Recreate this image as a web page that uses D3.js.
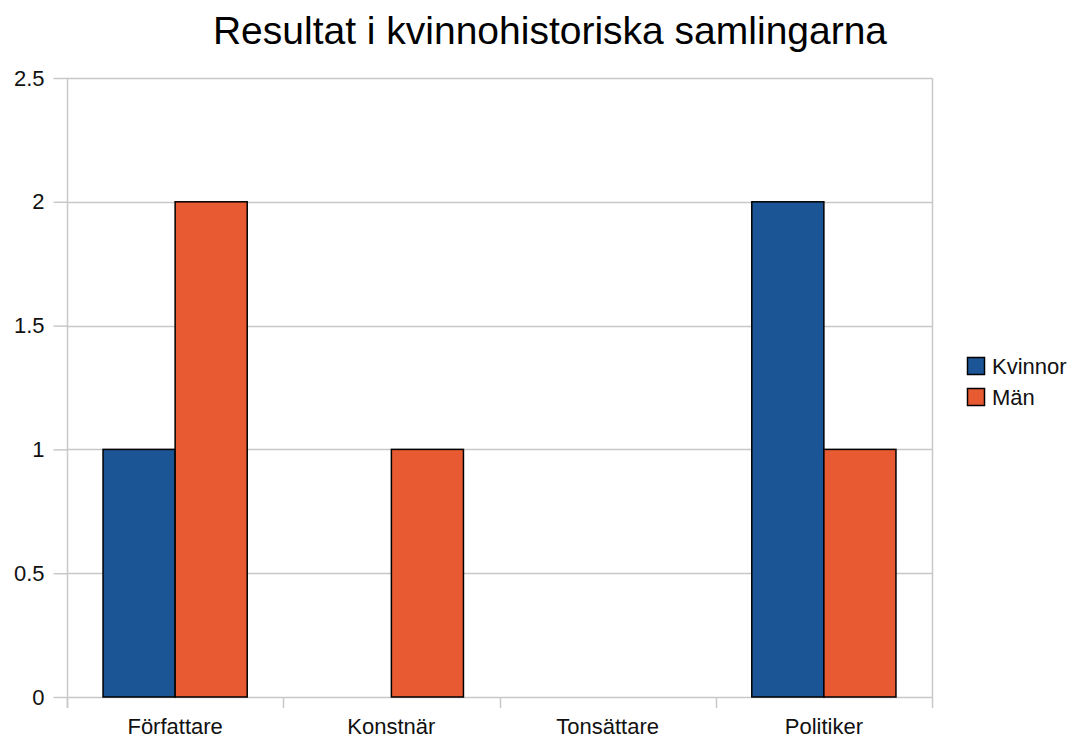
<!DOCTYPE html>
<html><head><meta charset="utf-8">
<script src="https://cdn.jsdelivr.net/npm/d3@7"></script>
<style>body{margin:0;background:#fff;}svg{display:block;font-family:"Liberation Sans",Arial,sans-serif;}</style>
</head><body>
<svg id="c" width="1077" height="740"></svg>
<script>
const categories = ["Författare", "Konstnär", "Tonsättare", "Politiker"];
const seriesNames = ["Kvinnor", "Män"];
const kvinnor = [1, 0, 0, 2];
const man = [2, 1, 0, 1];
const yTicks = [0, 0.5, 1, 1.5, 2, 2.5];
const yTickLabels = ["0", "0.5", "1", "1.5", "2", "2.5"];
const colors = ["#1b5596", "#e85a31"];
const title = "Resultat i kvinnohistoriska samlingarna";

const svg = d3.select("#c");
const m = {left: 67, right: 932, top: 78, bottom: 697};
const x = d3.scaleBand().domain(categories).range([m.left, m.right]).paddingInner(0).paddingOuter(0);
const y = d3.scaleLinear().domain([0, 2.5]).range([m.bottom, m.top]);
const x1 = d3.scaleBand().domain(seriesNames).range([x.bandwidth()/6, x.bandwidth()*5/6]);
const data = [kvinnor, man];
const FS = 22;

// gridlines
svg.append("g").selectAll("line").data(yTicks).join("line")
  .attr("x1", m.left).attr("x2", m.right)
  .attr("y1", d => Math.round(y(d)) + 0.5).attr("y2", d => Math.round(y(d)) + 0.5)
  .attr("stroke", "#c8c8c8").attr("stroke-width", 1.5);
// right border
svg.append("line").attr("x1", m.right + 0.5).attr("x2", m.right + 0.5)
  .attr("y1", m.top).attr("y2", m.bottom).attr("stroke", "#c8c8c8").attr("stroke-width", 1.5);

// y axis
const yAxis = d3.axisLeft(y).tickValues(yTicks).tickFormat((d, i) => yTickLabels[i]).tickSize(14).tickPadding(9);
const ya = svg.append("g").attr("transform", `translate(${m.left + 0.5},0)`).call(yAxis);
ya.select(".domain").remove();
ya.selectAll(".tick line").attr("stroke", "#c8c8c8").attr("stroke-width", 1.5);
ya.selectAll("text").attr("font-size", FS).attr("fill", "#111").attr("font-family", "Liberation Sans, Arial, sans-serif");
svg.append("line").attr("x1", m.left + 0.5).attr("x2", m.left + 0.5).attr("y1", m.top).attr("y2", m.bottom + 11)
  .attr("stroke", "#c8c8c8").attr("stroke-width", 1.5);

// x axis
const xa = svg.append("g").attr("transform", `translate(0,${m.bottom + 0.5})`)
  .call(d3.axisBottom(x).tickSize(0).tickPadding(21));
xa.select(".domain").remove();
xa.selectAll("text").attr("font-size", FS).attr("fill", "#111").attr("font-family", "Liberation Sans, Arial, sans-serif");
const bounds = categories.map(c => x(c)).concat([m.right]);
svg.append("g").selectAll("line").data(bounds).join("line")
  .attr("x1", d => Math.round(d) + 0.5).attr("x2", d => Math.round(d) + 0.5)
  .attr("y1", m.bottom).attr("y2", m.bottom + 11)
  .attr("stroke", "#c8c8c8").attr("stroke-width", 1.5);

// bars
const bars = [];
categories.forEach((c, i) => seriesNames.forEach((s, j) => {
  if (data[j][i] > 0) bars.push({c, s, v: data[j][i], j});
}));
svg.append("g").selectAll("rect").data(bars).join("rect")
  .attr("x", d => x(d.c) + x1(d.s)).attr("width", x1.bandwidth())
  .attr("y", d => y(d.v)).attr("height", d => y(0) - y(d.v))
  .attr("fill", d => colors[d.j]).attr("stroke", "#000").attr("stroke-width", 1.5);

// title
svg.append("text").attr("x", 550).attr("y", 44).attr("text-anchor", "middle")
  .attr("font-size", 39).attr("fill", "#000").text(title);

// legend
const lg = svg.append("g").attr("transform", "translate(967,357)");
seriesNames.forEach((s, i) => {
  lg.append("rect").attr("x", 0.5).attr("y", i * 31 + 0.5).attr("width", 17).attr("height", 17)
    .attr("fill", colors[i]).attr("stroke", "#000").attr("stroke-width", 1.5);
  lg.append("text").attr("x", 25).attr("y", i * 31 + 17).attr("font-size", FS).attr("fill", "#111").text(s);
});
</script>
</body></html>
